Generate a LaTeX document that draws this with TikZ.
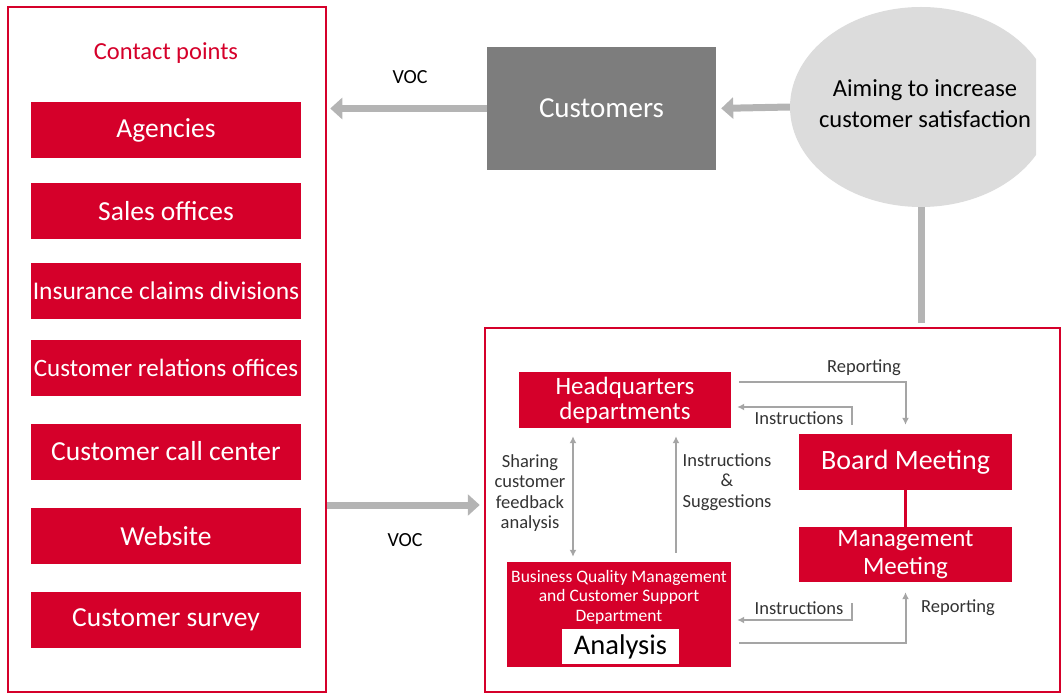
\documentclass[tikz,border=0pt]{standalone}
\usepackage{fontspec}
\setmainfont{Carlito}
\usetikzlibrary{arrows.meta,positioning,shapes.geometric}

\definecolor{crimson}{RGB}{213,0,42}
\definecolor{custgray}{RGB}{125,125,125}
\definecolor{cloudgray}{RGB}{220,220,220}
\definecolor{arrowgray}{RGB}{180,180,180}
\definecolor{linegray}{RGB}{165,165,165}

\begin{document}
\begin{tikzpicture}[
            x=1pt,y=-1pt,
            panel/.style={draw=crimson, line width=2.5pt, inner sep=0},
            cpbox/.style={fill=crimson, text=white, minimum width=270,
                minimum height=56, inner sep=0},
            orgbox/.style={fill=crimson, text=white, align=center, inner sep=0},
            bigarrow/.style={line width=7pt, draw=arrowgray,
                -{Triangle[width=21pt,length=12pt]}},
            thinarrow/.style={line width=2pt, draw=linegray,
                -{Latex[length=7pt,width=7pt]}},
            smalltext/.style={align=center, text=black!80,
                font=\fontsize{18.5}{20.5}\selectfont}]

        \useasboundingbox (0,0) rectangle (1062,695);

        % contact points
        \node[panel, minimum width=318, minimum height=685] (contact) at (167,349.5) {};
        \node[text=crimson, font=\fontsize{24.5}{28}\selectfont] (cptitle) at (166,53) {Contact points};
        \foreach \n/\y/\s/\t in {agen/130.5/27.5/Agencies, sales/211/27.5/Sales offices,
                claims/291/25.5/Insurance claims divisions,
                rel/367.5/25/Customer relations offices,
                call/451.5/27.5/Customer call center, web/536/27.5/Website,
                survey/620/27.5/Customer survey}
            \node[cpbox, font=\fontsize{\s}{\s}\selectfont] (\n) at (166,\y) {\t};

        % customers and aim
        \node[fill=custgray, text=white, minimum width=229, minimum height=123,
            font=\fontsize{29}{33}\selectfont] (customers) at (601.5,108.5) {Customers};

        \begin{scope}
            \clip (780,0) rectangle (1036,230);
            \node[ellipse, fill=cloudgray, minimum width=262, minimum height=200,
                inner sep=0] (aim) at (921,107) {};
        \end{scope}
        \node[align=center, font=\fontsize{24.5}{31}\selectfont] (aimtext) at (925,104)
            {Aiming to increase\\customer satisfaction};

        \draw[bigarrow, shorten >=5pt] (aim.west) -- (customers.east);
        \draw[bigarrow, shorten >=3pt] (customers.west) -- (customers.west -| contact.east);
        \node[font=\fontsize{20}{24}\selectfont] (voctop) at (410,77) {VOC};

        % company side
        \node[panel, minimum width=575, minimum height=364] (office) at (772.5,510) {};
        \draw[line width=7pt, arrowgray, shorten >=4pt] (aim.south) -- (aim.south |- office.north);

        \coordinate (vocrow) at (400,505);
        \draw[bigarrow, shorten >=4pt] (contact.east |- vocrow) -- (office.west |- vocrow);
        \node[font=\fontsize{20}{24}\selectfont] (vocbottom) at (405,540) {VOC};

        \node[orgbox, minimum width=212, minimum height=56,
            font=\fontsize{25}{25}\selectfont] (hq) at (625,400) {Headquarters\\departments};
        \node[orgbox, minimum width=213, minimum height=56,
            font=\fontsize{28}{31}\selectfont] (board) at (905.5,462) {Board Meeting};
        \node[orgbox, minimum width=213, minimum height=55,
            font=\fontsize{25}{28}\selectfont] (mgmt) at (905.5,554.5) {Management\\Meeting};
        \node[orgbox, minimum width=224, minimum height=105] (bqm) at (619,614.5) {};
        \node[text=white, align=center, font=\fontsize{17.5}{19.5}\selectfont] (bqmtext)
            at (619,597) {Business Quality Management\\and Customer Support\\Department};
        \node[fill=white, minimum width=117, minimum height=35, inner sep=0,
            font=\fontsize{28.5}{31}\selectfont] (analysis) at (620.5,646.5) {Analysis};

        \draw[crimson, line width=2.5pt] (board) -- (mgmt);

        \draw[thinarrow, {Latex[length=7pt,width=7pt]}-{Latex[length=7pt,width=7pt]}]
            ([xshift=-52pt,yshift=-8pt]hq.south) -- ([xshift=-46pt,yshift=5pt]bqm.north);
        \draw[thinarrow] ([xshift=57pt,yshift=9pt]bqm.north) -- ([xshift=51pt,yshift=-8pt]hq.south);
        \draw[thinarrow] ([xshift=8pt,yshift=18pt]hq.east) -| ([yshift=9pt]board.north);
        \draw[thinarrow] ([xshift=-53.5pt,yshift=9pt]board.north) |- ([xshift=6pt,yshift=-7pt]hq.east);
        \draw[thinarrow] ([xshift=-53.5pt,yshift=-21pt]mgmt.south) |- ([xshift=6pt,yshift=-5.5pt]bqm.east);
        \draw[thinarrow] ([xshift=8pt,yshift=-28.5pt]bqm.east) -| ([yshift=-10pt]mgmt.south);

        \node[smalltext] (share) at (530,493) {Sharing\\customer\\feedback\\analysis};
        \node[smalltext] (suggest) at (727,482) {Instructions\\\&\\Suggestions};
        \node[smalltext] (reptop) at (864,368) {Reporting};
        \node[smalltext] (instop) at (799,418) {Instructions};
        \node[smalltext] (insbottom) at (799,608) {Instructions};
        \node[smalltext] (repbottom) at (958,608) {Reporting};
    \end{tikzpicture}
\end{document}
